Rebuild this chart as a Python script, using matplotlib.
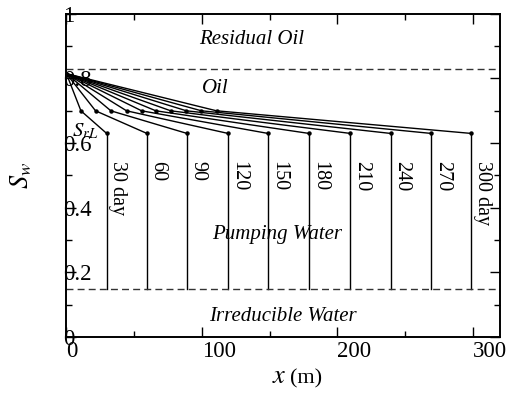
import matplotlib
matplotlib.use('Agg')
import matplotlib.pyplot as plt

plt.rcParams['font.family'] = ['Liberation Serif', 'DejaVu Serif']
plt.rcParams['mathtext.fontset'] = 'stix'

# datos
days = [30, 60, 90, 120, 150, 180, 210, 240, 270, 300]
x_front = [29.7, 59.4, 89.0, 119.3, 148.8, 179.1, 209.6, 239.3, 269.3, 298.8]
x_mid = [10.7, 21.5, 32.8, 44.4, 55.5, 66.0, 77.0, 88.6, 99.7, 110.8]
s_start = 0.815
s_mid = 0.70
s_front = 0.63
s_irr = 0.15
s_res = 0.83
day_labels = ['30 day', '60', '90', '120', '150', '180', '210', '240', '270', '300 day']
y_ticks = [0, 0.2, 0.4, 0.6, 0.8, 1.0]
y_ticklabels = ['0', '0.2', '0.4', '0.6', '0.8', '1']
x_ticks = [0, 100, 200, 300]
x_ticklabels = ['0', '100', '200', '300']

fig = plt.figure(figsize=(5.07, 3.96), dpi=100)
ax = fig.add_axes([0.131, 0.149, 0.855, 0.816])

for xf, xm, lab in zip(x_front, x_mid, day_labels):
    # perfil de saturacion hasta el frente
    ax.plot([0, xm, xf], [s_start, s_mid, s_front], color='black', lw=1,
            marker='o', ms=2.2)
    # caida vertical en el frente
    ax.plot([xf, xf], [s_front, s_irr], color='black', lw=1)
    ax.text(xf + 1.2, 0.545, lab, rotation=270, ha='left', va='top', fontsize=14.5)

ax.axhline(s_res, color='0.2', lw=1, ls=(0, (5, 3)))
ax.axhline(s_irr, color='0.2', lw=1, ls=(0, (5, 3)))

ax.text(137, 0.92, 'Residual Oil', style='italic', fontsize=15, ha='center', va='center')
ax.text(110, 0.768, 'Oil', style='italic', fontsize=15, ha='center', va='center')
ax.text(155.6, 0.316, 'Pumping Water', style='italic', fontsize=15, ha='center', va='center')
ax.text(159.7, 0.063, 'Irreducible Water', style='italic', fontsize=15, ha='center', va='center')
ax.text(4, 0.62, r'$S_{rL}$', fontsize=15, ha='left', va='baseline')

ax.set_xlim(0, 320)
ax.set_ylim(0, 1)
ax.set_xticks(x_ticks, x_ticklabels)
ax.set_xticks([50, 150, 250], minor=True)
ax.set_yticks(y_ticks, y_ticklabels)
ax.set_yticks([0.1, 0.3, 0.5, 0.7, 0.9], minor=True)
ax.tick_params(which='both', direction='in', top=True, right=True, labelsize=16.5, width=1)
ax.tick_params(which='major', length=7)
ax.tick_params(which='minor', length=4)
ax.tick_params(axis='y', pad=2.5)
ax.tick_params(axis='x', pad=3)
for lbl in ax.get_yticklabels():
    lbl.set_horizontalalignment('left')
for lbl in ax.get_xticklabels():
    lbl.set_horizontalalignment('left')
for sp in ax.spines.values():
    sp.set_linewidth(1.4)

ax.set_ylabel(r'$S_w$', fontsize=19, labelpad=20)
fig.text(279 / 507, 1 - 377 / 396, r'$x$', fontsize=19, ha='center', va='center')
fig.text(306 / 507, 1 - 379 / 396, '(m)', fontsize=16, ha='center', va='center')

plt.savefig('out.png', dpi=100)
